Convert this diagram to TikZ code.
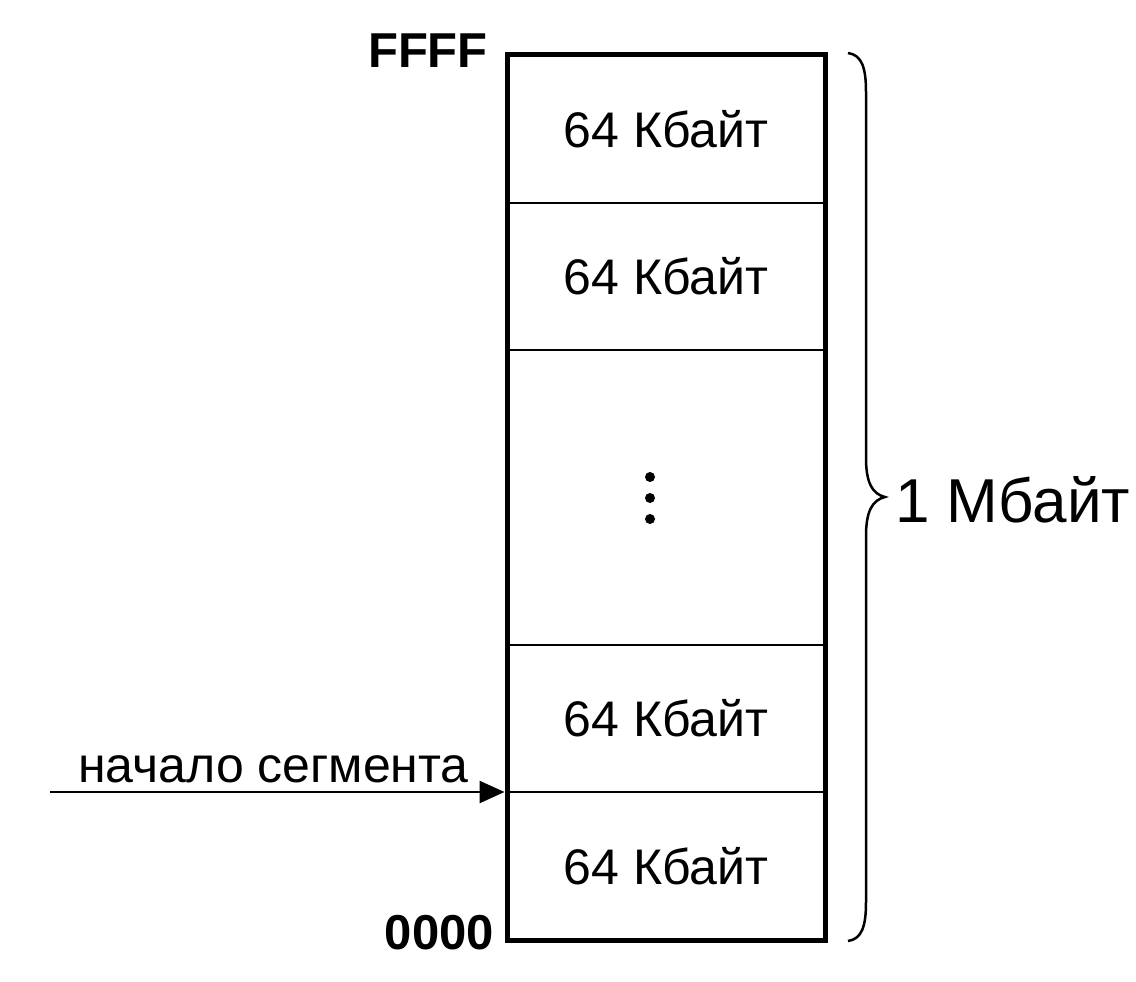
\documentclass[tikz,border=0pt]{standalone}
\usepackage{fontspec}
\setmainfont{Liberation Sans}
\usetikzlibrary{arrows.meta}
\begin{document}
\begin{tikzpicture}[x=1pt,y=-1pt,
  cell/.style={draw, line width=1.5pt, minimum width=318pt, inner sep=0pt, outer sep=0pt,
    font=\fontsize{50}{60}\selectfont},
  addr/.style={font=\fontsize{49}{58}\selectfont\bfseries, inner sep=0pt},
  lbl/.style={font=\fontsize{50}{60}\selectfont, inner sep=0pt},
  big/.style={font=\fontsize{62}{74}\selectfont, inner sep=0pt},
  dot/.style={circle, fill, inner sep=0pt, minimum size=10pt}]
\useasboundingbox (0,0) rectangle (1136,982);
\fill[white] (0,0) rectangle (1136,982);
% cells
\node[cell, minimum height=148.5pt] (c1) at (666,128.75) {64 Кбайт};
\node[cell, minimum height=147pt]   (c2) at (666,276.5) {64 Кбайт};
\node[cell, minimum height=295pt]   (c3) at (666,497.5) {};
\node[cell, minimum height=147pt]   (c4) at (666,718.5) {64 Кбайт};
\node[cell, minimum height=148pt]   (c5) at (666,866) {64 Кбайт};
\draw[line width=5pt] (c1.north west) rectangle (c5.south east);
% dots
\node[dot] (d1) at (650,477) {};
\node[dot] (d2) at (650,498) {};
\node[dot] (d3) at (650,519) {};
% addresses
\node[addr, anchor=base east] (ffff) at (488,67) {FFFF};
\node[addr, anchor=base east] (zero) at (494,949) {0000};
% brace
\draw[line width=2.5pt] (848,53) .. controls (862,55) and (866,68) .. (866,92)
  -- (866,458) .. controls (866,482) and (872,494) .. (885,497)
  .. controls (872,500) and (866,512) .. (866,536)
  -- (866,902) .. controls (866,926) and (862,939) .. (848,941);
\node[big, anchor=west] (mb) at (895,500) {1 Мбайт};
% arrow
\coordinate (src) at (50,792);
\draw[line width=2.5pt, -{Triangle[length=25pt,width=22pt]}] (src) -- ([xshift=-2.5pt]c4.south west);
\node[lbl, anchor=base west] (seg) at (78,782) {начало сегмента};
\end{tikzpicture}
\end{document}
